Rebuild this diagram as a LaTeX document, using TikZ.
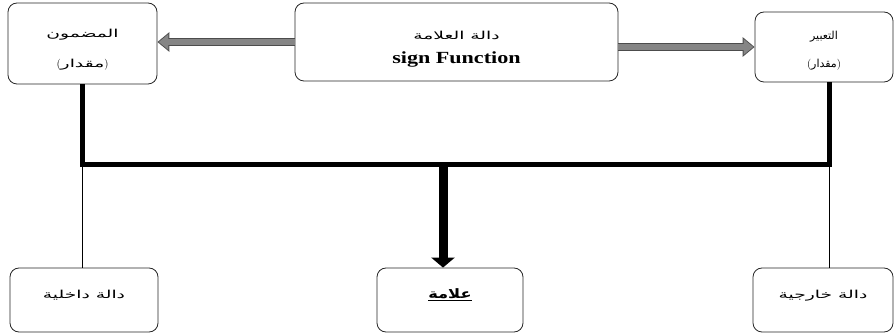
\documentclass[tikz,border=0pt]{standalone}
\usepackage{fontspec}
\usetikzlibrary{arrows.meta}
\TeXXeTstate=1
\newfontfamily\arabicfont[Script=Arabic]{DejaVu Sans}
\newfontfamily\arabicmid[Script=Arabic,FakeStretch=1.25]{DejaVu Sans}
\newfontfamily\arabicwide[Script=Arabic,FakeStretch=1.7]{DejaVu Sans}
\newfontfamily\latinwide[FakeStretch=1.3]{Liberation Serif}

\begin{document}
\begin{tikzpicture}[x=1pt,y=-1pt,
  box/.style={draw=black!85,rounded corners=9pt,line width=0.8pt,align=center,inner sep=0pt},
  thickline/.style={line width=5pt},
  thinline/.style={line width=0.7pt},
  grayarrow/.style={line width=8pt,draw=black!70,-{Triangle[width=19pt,length=12pt]},
    postaction={draw=black!48,line width=5.6pt,-{Triangle[width=15pt,length=9.5pt]},shorten >=1.4pt}}]
\useasboundingbox (0,0) rectangle (894,336);

% top row
\path (82.5,43.5) node[box,minimum width=149pt,minimum height=81pt,
  font=\fontsize{11}{30}\selectfont] (madmun)
  {\rule{0pt}{21pt}{\arabicwide\beginR المضمون\endR}\\({\arabicwide\beginR مقدار\endR})};
\path (456.5,42) node[box,minimum width=323pt,minimum height=78pt,
  font=\fontsize{11}{24}\selectfont] (sign)
  {\rule{0pt}{22pt}{\arabicwide\beginR دالة العلامة\endR}\\{\latinwide\fontsize{17}{24}\selectfont\bfseries sign Function}};
\path (824,47) node[box,minimum width=138pt,minimum height=70pt,
  font=\fontsize{11}{28}\selectfont] (tabir)
  {\rule{0pt}{15pt}{\arabicfont\beginR التعبير\endR}\\({\arabicfont\beginR مقدار\endR})};

\draw[grayarrow] (sign.west) -- (sign.west -| madmun.east);
\draw[grayarrow] (sign.east |- tabir.west) -- (tabir.west);

% bottom row
\path (84,300) node[box,minimum width=148pt,minimum height=64pt,font=\fontsize{11}{14}\selectfont] (dakhil)
  {\raisebox{12pt}{\arabicwide\beginR دالة داخلية\endR}};
\path (450,300) node[box,minimum width=146pt,minimum height=64pt,font=\fontsize{13}{16}\selectfont] (alama)
  {\raisebox{13pt}{\underline{\arabicmid\bfseries\beginR علامة\endR}}};
\path (823,300) node[box,minimum width=140pt,minimum height=64pt,font=\fontsize{11}{14}\selectfont] (kharij)
  {\raisebox{12pt}{\arabicwide\beginR دالة خارجية\endR}};

% connectors
\coordinate (jl) at (82,165);
\coordinate (jr) at (829,165);
\coordinate (jc) at (443,165);
\draw[thickline] (madmun.south -| jl) -- (jl) -- (jr) -- (tabir.south -| jr);
\draw[thinline] (jl) -- (jl |- dakhil.north);
\draw[thinline] (jr) -- (jr |- kharij.north);
\draw[line width=9pt,-{Triangle[width=23pt,length=10pt]}] (jc) -- (jc |- alama.north);
\end{tikzpicture}
\end{document}
